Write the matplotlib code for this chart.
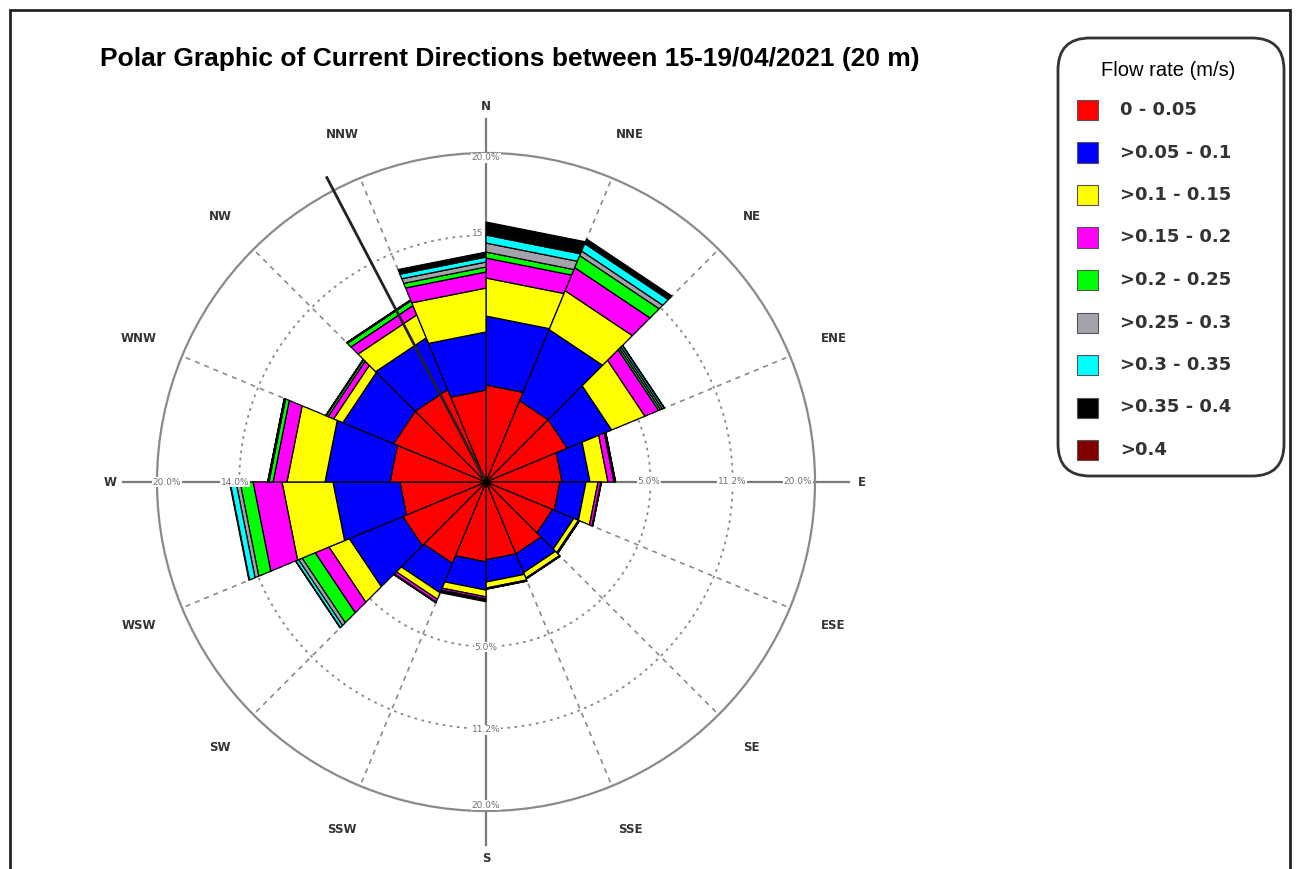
import numpy as np
import matplotlib

matplotlib.use("Agg")
import matplotlib.pyplot as plt
from matplotlib.patches import FancyBboxPatch, Rectangle


W_PX, H_PX, DPI = 1300, 869, 100

directions = ["N", "NNE", "NE", "ENE", "E", "ESE", "SE", "SSE",
              "S", "SSW", "SW", "WSW", "W", "WNW", "NW", "NNW"]
bin_labels = ["0 - 0.05", ">0.05 - 0.1", ">0.1 - 0.15", ">0.15 - 0.2",
              ">0.2 - 0.25", ">0.25 - 0.3", ">0.3 - 0.35", ">0.35 - 0.4", ">0.4"]
bin_colors = ["#ff0000", "#0000ff", "#ffff00", "#ff00ff", "#00ff00",
              "#a3a3ab", "#00ffff", "#000000", "#800000"]

# frequency (%) per sector, sector k covers k*22.5 .. (k+1)*22.5 deg
f_000_005 = [1.74, 1.43, 1.43, 1.07, 1.01, 0.96, 1.12, 1.12, 1.18, 1.43, 1.50, 1.37, 1.70, 1.85, 1.85, 1.56]
f_005_010 = [3.35, 3.60, 1.99, 0.93, 0.84, 0.71, 0.66, 0.73, 0.98, 1.23, 2.55, 2.96, 3.09, 2.59, 2.65, 2.60]
f_010_015 = [2.60, 2.89, 2.05, 0.75, 0.47, 0.18, 0.22, 0.23, 0.28, 0.32, 1.29, 3.36, 2.53, 0.59, 1.55, 2.79]
f_015_020 = [1.58, 2.03, 0.99, 0.28, 0.12, 0.04, 0.03, 0.04, 0.09, 0.14, 0.98, 2.34, 1.06, 0.37, 0.69, 1.20]
f_020_025 = [0.50, 1.14, 0.14, 0.04, 0.02, 0.01, 0.01, 0.01, 0.03, 0.03, 1.00, 1.15, 0.32, 0.13, 0.36, 0.39]
f_025_030 = [0.78, 0.46, 0.14, 0.03, 0.01, 0.00, 0.00, 0.00, 0.03, 0.01, 0.29, 0.37, 0.08, 0.03, 0.05, 0.40]
f_030_035 = [0.72, 0.75, 0.14, 0.01, 0.00, 0.00, 0.00, 0.00, 0.02, 0.00, 0.23, 0.56, 0.02, 0.01, 0.02, 0.41]
f_035_040 = [1.22, 0.48, 0.03, 0.00, 0.00, 0.00, 0.00, 0.00, 0.04, 0.00, 0.03, 0.06, 0.01, 0.00, 0.01, 0.42]
f_040_up = [0.00] * 16

series = [f_000_005, f_005_010, f_010_015, f_015_020, f_020_025,
          f_025_030, f_030_035, f_035_040, f_040_up]

# resultant direction line (deg, %)
mean_dir = 332.4
mean_len = 21.8

R_MAX = 20.0
R_PX = 329.0


def px_to_r(px):
    return R_MAX * (px / R_PX) ** 2


fig = plt.figure(figsize=(W_PX / DPI, H_PX / DPI), dpi=DPI)
fig.patch.set_facecolor("white")

cx, cy = 486, 482
ax = fig.add_axes([(cx - R_PX) / W_PX, (H_PX - cy - R_PX) / H_PX,
                   2 * R_PX / W_PX, 2 * R_PX / H_PX], projection="polar")
ax.set_theta_zero_location("N")
ax.set_theta_direction(-1)
ax.set_rscale("function", functions=(lambda x: np.sqrt(np.clip(x, 0, None)),
                                     lambda y: np.square(y)))
ax.set_rlim(0, R_MAX)
ax.set_xticks([])
ax.set_yticks([])
ax.grid(False)
ax.spines["polar"].set_color("#8a8a8a")
ax.spines["polar"].set_linewidth(1.6)

# grid: dotted rings, dashed spokes
ring_t = np.linspace(0, 2 * np.pi, 400)
for ring in [5.0, 11.25]:
    ax.plot(ring_t, np.full_like(ring_t, ring), color="#8a8a8a", lw=1.3,
            ls=(0, (1.5, 2.5)), zorder=1)
for k in range(16):
    if k % 4:
        t = np.radians(k * 22.5)
        ax.plot([t, t], [0, R_MAX], color="#8a8a8a", lw=1.2, ls=(0, (3, 3)), zorder=1)
for k in range(4):
    t = np.radians(k * 90)
    ax.plot([t, t], [0, px_to_r(363)], color="#7a7a7a", lw=1.6, zorder=1, clip_on=False)

# stacked sectors (straight chords like the original software)
for k in range(16):
    t0, t1 = np.radians(k * 22.5), np.radians((k + 1) * 22.5)
    bottom = 0.0
    for vals, col in zip(series, bin_colors):
        v = vals[k]
        if v <= 0:
            continue
        top = bottom + v
        ax.fill([t0, t1, t1, t0], [bottom, bottom, top, top], facecolor=col,
                edgecolor="black", lw=0.9, zorder=3)
        bottom = top

ax.plot([np.radians(mean_dir)] * 2, [0, mean_len], color="#222222", lw=2.0,
        zorder=6, clip_on=False)
ax.plot([0], [0], "o", color="black", ms=4, zorder=7)

# ring labels
ring_labels = [(90, 163, "5.0%"), (90, 246, "11.2%"), (90, 312, "20.0%"),
               (180, 165, "5.0%"), (180, 248, "11.2%"), (180, 323, "20.0%"),
               (270, 251, "14.0%"), (270, 319, "20.0%"),
               (358, 249, "15"), (0, 324, "20.0%")]
for ang, px, txt in ring_labels:
    ax.text(np.radians(ang), px_to_r(px), txt, ha="center", va="center",
            fontsize=6.5, color="#707070", zorder=4,
            bbox=dict(facecolor="white", edgecolor="none", pad=0.6))

# compass labels
for k, name in enumerate(directions):
    ax.text(np.radians(k * 22.5), px_to_r(376), name, ha="center", va="center",
            fontsize=8.5, fontweight="bold", color="#333333", family="DejaVu Sans")

fig.text(100 / W_PX, 1 - 59 / H_PX,
         "Polar Graphic of Current Directions between 15-19/04/2021 (20 m)",
         ha="left", va="center", fontsize=19, fontweight="bold",
         family="Liberation Sans", color="black")

# outer frame
inch = fig.dpi_scale_trans
fig.patches.append(Rectangle((0.10, -0.05), 12.80, 8.64, fill=False,
                             edgecolor="#222222", lw=2, transform=inch))

# legend box
lx0, ly_top, lx1, ly_bot = 1058, 38, 1284, 476
fig.patches.append(FancyBboxPatch((lx0 / DPI, (H_PX - ly_bot) / DPI),
                                  (lx1 - lx0) / DPI, (ly_bot - ly_top) / DPI,
                                  boxstyle="round,pad=0,rounding_size=0.32",
                                  facecolor="white", edgecolor="#333333", lw=2,
                                  transform=inch))
fig.text(1168 / W_PX, 1 - 70 / H_PX, "Flow rate (m/s)", ha="center", va="center",
         fontsize=14.5, family="Liberation Sans", color="black")
for i, (lab, col) in enumerate(zip(bin_labels, bin_colors)):
    yc = 110 + i * 42.5
    fig.patches.append(Rectangle((1077 / DPI, (H_PX - yc - 10) / DPI), 0.21, 0.20,
                                 facecolor=col, edgecolor="#555555", lw=0.8,
                                 transform=inch))
    fig.text(1120 / W_PX, 1 - yc / H_PX, lab, ha="left", va="center",
             fontsize=13, fontweight="bold", family="DejaVu Sans", color="#333333")

fig.savefig("out.png", dpi=DPI, facecolor="white")
